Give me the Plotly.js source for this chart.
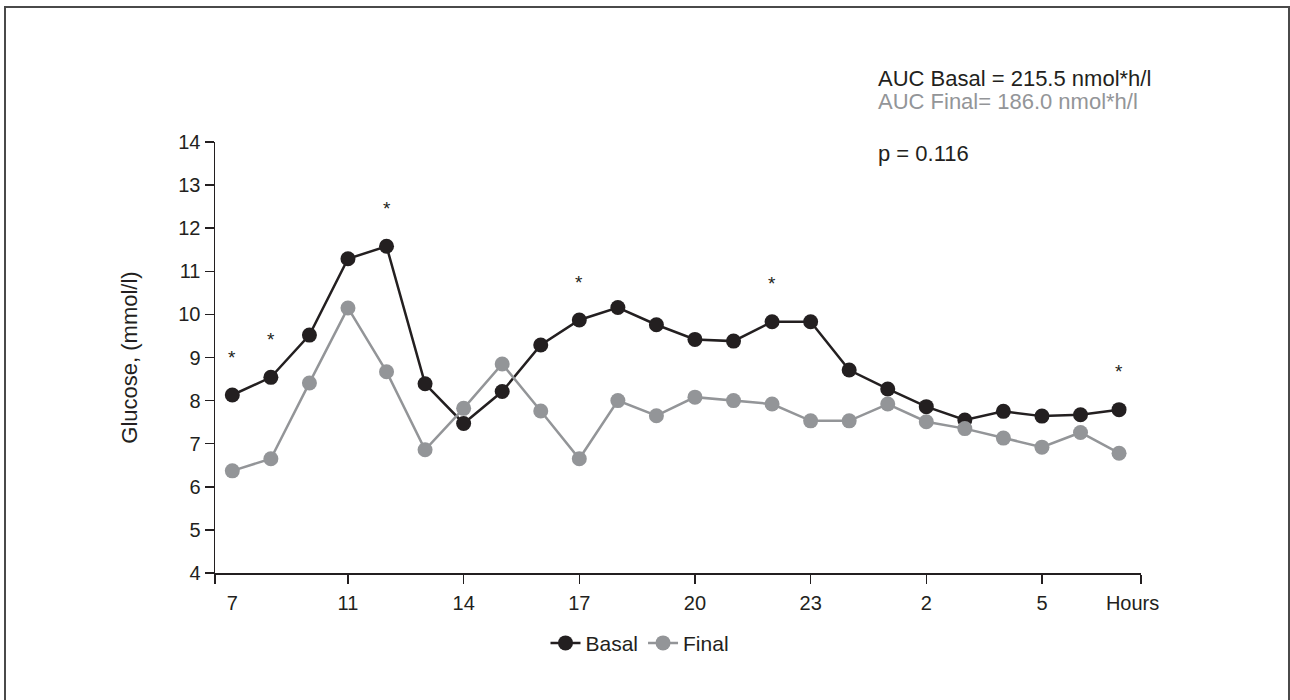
<!DOCTYPE html>
<html>
<head>
<meta charset="utf-8">
<script src="https://cdn.plot.ly/plotly-3.0.1.min.js"></script>
<style>
  html, body { margin: 0; padding: 0; background: #ffffff; }
  #wrap { position: relative; width: 1290px; height: 700px; overflow: hidden; }
  #chart { position: absolute; left: 0; top: 0; width: 1290px; height: 700px; }
  #frame { position: absolute; left: 4px; top: 6px; width: 1282px; height: 720px;
           border-left: 2px solid #4a4a4a; border-top: 2px solid #4a4a4a; border-right: 2px solid #4a4a4a;
           pointer-events: none; }
</style>
</head>
<body>
<div id="wrap">
  <div id="chart"></div>
  <div id="frame"></div>
</div>
<script>
// sample positions (one per measurement)
const samples = [0,1,2,3,4,5,6,7,8,9,10,11,12,13,14,15,16,17,18,19,20,21,22,23];
// glucose (mmol/l)
const basal = [8.13, 8.54, 9.52, 11.29, 11.58, 8.39, 7.47, 8.21, 9.29, 9.87, 10.16, 9.76,
               9.42, 9.38, 9.83, 9.83, 8.71, 8.27, 7.86, 7.55, 7.75, 7.64, 7.67, 7.79];
const finalV = [6.37, 6.65, 8.41, 10.15, 8.67, 6.86, 7.82, 8.85, 7.76, 6.65, 8.00, 7.65,
                8.08, 8.00, 7.92, 7.53, 7.53, 7.92, 7.51, 7.35, 7.13, 6.92, 7.26, 6.78];
// significance markers (sample positions)
const starSamples = [0, 1, 4, 9, 14, 23];
// x tick labels
const xTickPos = [0, 3, 6, 9, 12, 15, 18, 21, 23.35];
const xTickText = ["7", "11", "14", "17", "20", "23", "2", "5", "Hours"];
const xTickMarks = [-0.449, 3, 6, 9, 12, 15, 18, 21, 23.569];
const yTicks = [4,5,6,7,8,9,10,11,12,13,14];

const BLACK = '#231f20';
const GRAY = '#939598';
const FONT = 'Liberation Sans, Arial, sans-serif';
const xRange = [-0.449, 23.569];

const traces = [
  { x: samples, y: basal, name: 'Basal', type: 'scatter', mode: 'lines+markers',
    line: { color: BLACK, width: 2.5 }, marker: { color: BLACK, size: 15 }, xaxis: 'x', yaxis: 'y' },
  { x: samples, y: finalV, name: 'Final', type: 'scatter', mode: 'lines+markers',
    line: { color: GRAY, width: 2.5 }, marker: { color: GRAY, size: 15 }, xaxis: 'x2', yaxis: 'y' }
];

const annotations = starSamples.map(i => ({
  x: samples[i], y: basal[i], xref: 'x', yref: 'y', text: '*', showarrow: false,
  yshift: 38, font: { family: FONT, size: 19, color: BLACK }
}));
const annX = (876 - 215) / 926;
annotations.push(
  { xref: 'paper', yref: 'paper', x: annX, y: (573 - 78) / 431, xanchor: 'left', yanchor: 'middle',
    text: 'AUC Basal = 215.5 nmol*h/l', showarrow: false, font: { family: FONT, size: 22, color: BLACK } },
  { xref: 'paper', yref: 'paper', x: annX, y: (573 - 102) / 431, xanchor: 'left', yanchor: 'middle',
    text: 'AUC Final= 186.0 nmol*h/l', showarrow: false, font: { family: FONT, size: 22, color: GRAY } },
  { xref: 'paper', yref: 'paper', x: annX, y: (573 - 153) / 431, xanchor: 'left', yanchor: 'middle',
    text: 'p = 0.116', showarrow: false, font: { family: FONT, size: 22, color: BLACK } }
);

const layout = {
  width: 1290, height: 700,
  margin: { l: 215, r: 149, t: 142, b: 127, pad: 0 },
  paper_bgcolor: '#ffffff', plot_bgcolor: '#ffffff',
  font: { family: FONT, size: 20, color: BLACK },
  showlegend: true,
  legend: { orientation: 'h', x: (640 - 215) / 926, xanchor: 'center', y: -0.163, yanchor: 'middle',
            font: { family: FONT, size: 21, color: BLACK }, itemwidth: 30 },
  xaxis: { range: xRange, tickmode: 'array', tickvals: xTickMarks, showticklabels: false,
           ticks: 'outside', ticklen: 9, tickwidth: 1.5, tickcolor: BLACK,
           showline: true, linecolor: BLACK, linewidth: 1.5, showgrid: false, zeroline: false, fixedrange: true },
  xaxis2: { range: xRange, overlaying: 'x', anchor: 'y', side: 'bottom', tickmode: 'array',
            tickvals: xTickPos, ticktext: xTickText, ticks: 'outside', ticklen: 12, tickcolor: 'rgba(0,0,0,0)',
            showline: false, showgrid: false, zeroline: false,
            tickfont: { family: FONT, size: 20, color: BLACK } },
  yaxis: { range: [4, 14], tickmode: 'array', tickvals: yTicks, ticks: 'outside', ticklen: 9, tickwidth: 1.5,
           tickcolor: BLACK, showline: true, linecolor: BLACK, linewidth: 1.5, showgrid: false, zeroline: false,
           tickfont: { family: FONT, size: 20, color: BLACK },
           title: { text: 'Glucose, (mmol/l)', font: { family: FONT, size: 22, color: BLACK }, standoff: 34 } },
  annotations: annotations
};

Plotly.newPlot('chart', traces, layout, { displayModeBar: false, staticPlot: true });
</script>
</body>
</html>
